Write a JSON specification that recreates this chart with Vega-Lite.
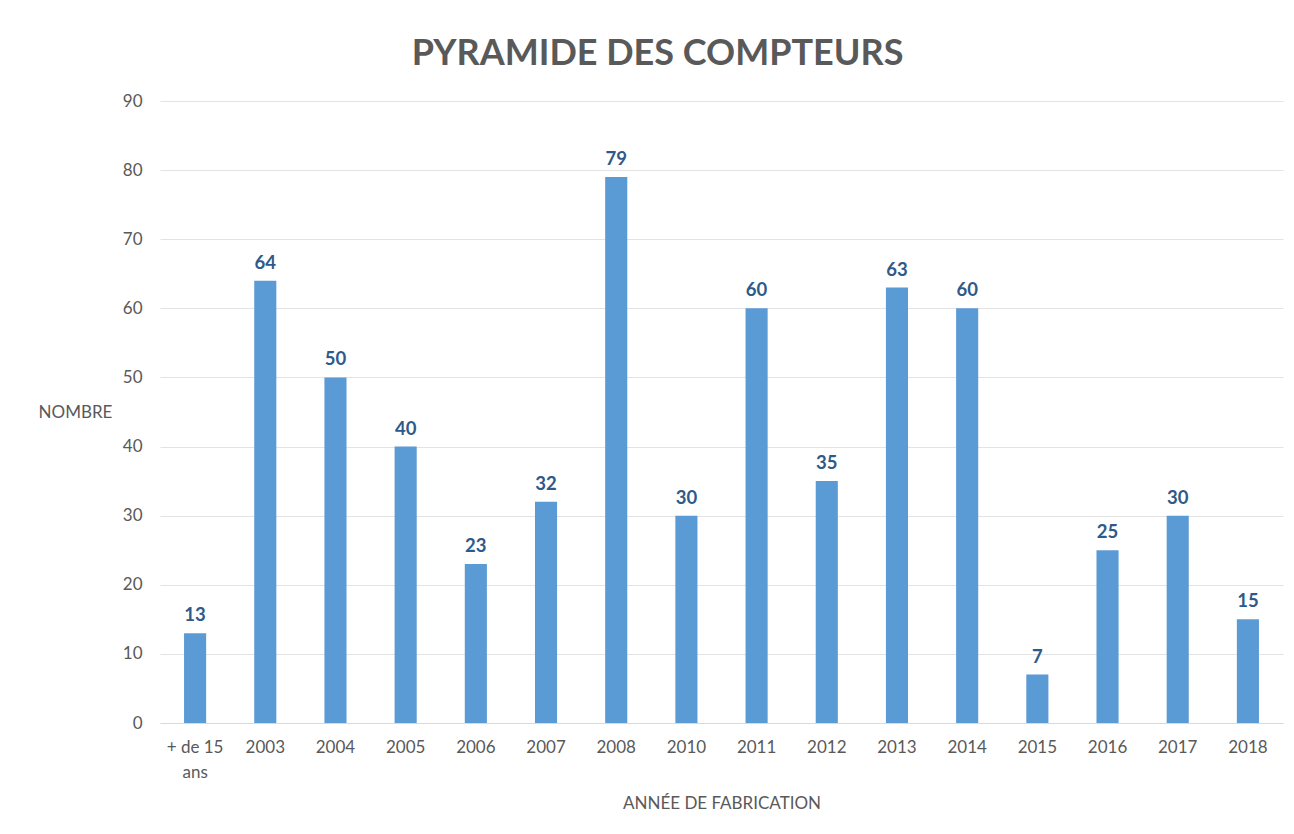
{
  "$schema": "https://vega.github.io/schema/vega-lite/v6.json",
  "autosize": {"type": "none"},
  "width": 1123,
  "height": 622,
  "padding": {"left": 160, "top": 101, "right": 11, "bottom": 111},
  "background": "white",
  "title": {
    "text": "PYRAMIDE DES COMPTEURS",
    "font": "Lato",
    "fontSize": 36,
    "fontWeight": "bold",
    "color": "#595959",
    "anchor": "middle",
    "dx": -64,
    "dy": 44,
    "offset": 35,
    "baseline": "alphabetic"
  },
  "config": {
    "view": {"stroke": null},
    "axis": {
      "labelFont": "Lato",
      "titleFont": "Lato",
      "labelColor": "#595959",
      "titleColor": "#595959",
      "labelFontSize": 17,
      "titleFontSize": 17,
      "titleFontWeight": "normal"
    }
  },
  "data": {
    "values": [
      {"annee": "+ de 15 ans", "nombre": 13},
      {"annee": "2003", "nombre": 64},
      {"annee": "2004", "nombre": 50},
      {"annee": "2005", "nombre": 40},
      {"annee": "2006", "nombre": 23},
      {"annee": "2007", "nombre": 32},
      {"annee": "2008", "nombre": 79},
      {"annee": "2010", "nombre": 30},
      {"annee": "2011", "nombre": 60},
      {"annee": "2012", "nombre": 35},
      {"annee": "2013", "nombre": 63},
      {"annee": "2014", "nombre": 60},
      {"annee": "2015", "nombre": 7},
      {"annee": "2016", "nombre": 25},
      {"annee": "2017", "nombre": 30},
      {"annee": "2018", "nombre": 15}
    ]
  },
  "encoding": {
    "x": {
      "field": "annee",
      "type": "nominal",
      "sort": null,
      "scale": {"paddingInner": 0.685, "paddingOuter": 0.3425},
      "axis": {
        "title": "ANNÉE DE FABRICATION",
        "labelAngle": 0,
        "labelExpr": "datum.label == '+ de 15 ans' ? ['+ de 15', 'ans'] : datum.label",
        "labelLineHeight": 25,
        "labelPadding": 16,
        "ticks": false,
        "domainColor": "#d9d9d9",
        "domainWidth": 1,
        "titleY": 80,
        "titleBaseline": "middle"
      }
    },
    "y": {
      "field": "nombre",
      "type": "quantitative",
      "scale": {"domain": [0, 90]},
      "axis": {
        "title": "NOMBRE",
        "titleAngle": 0,
        "titleX": -85,
        "titleY": 311,
        "titleAlign": "center",
        "titleBaseline": "middle",
        "values": [0, 10, 20, 30, 40, 50, 60, 70, 80, 90],
        "ticks": false,
        "domain": false,
        "labelPadding": 18,
        "gridColor": "#e3e3e3",
        "gridWidth": 1
      }
    }
  },
  "layer": [
    {"mark": {"type": "bar", "color": "#5B9BD5"}},
    {
      "mark": {
        "type": "text",
        "baseline": "bottom",
        "dy": -8,
        "font": "Lato",
        "fontSize": 18.5,
        "fontWeight": "bold",
        "color": "#2E5A8A"
      },
      "encoding": {"text": {"field": "nombre", "type": "quantitative"}}
    }
  ]
}
